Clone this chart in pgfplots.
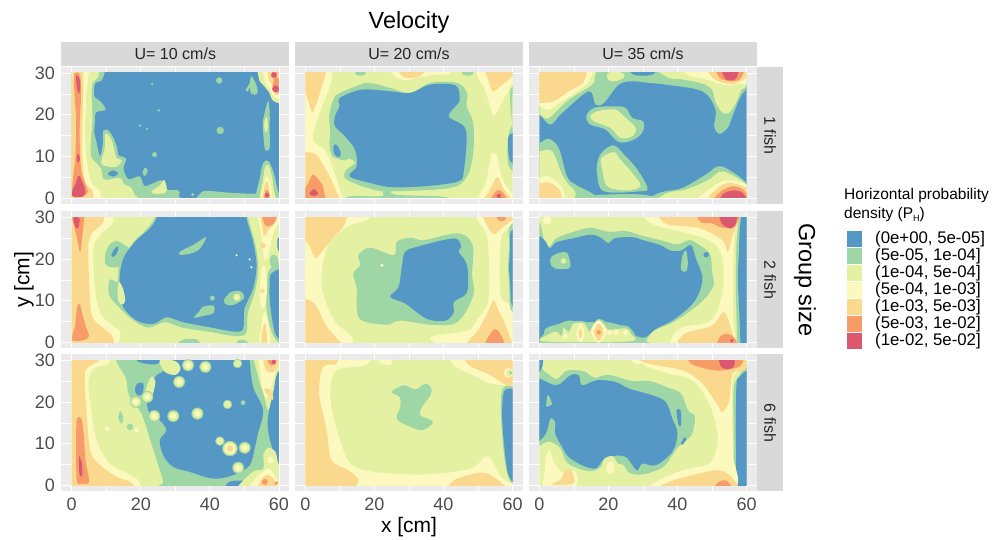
\documentclass[border=0pt]{standalone}
\usepackage{pgfplots}
\pgfplotsset{compat=1.18}
\usepackage{fontspec}
\setmainfont{Liberation Sans}
\definecolor{cA}{RGB}{85,152,197}
\definecolor{cB}{RGB}{158,214,165}
\definecolor{cC}{RGB}{228,241,163}
\definecolor{cD}{RGB}{251,249,190}
\definecolor{cE}{RGB}{250,217,143}
\definecolor{cF}{RGB}{247,155,105}
\definecolor{cG}{RGB}{220,88,110}
\definecolor{strip}{RGB}{217,217,217}
\definecolor{panelbg}{RGB}{235,235,235}
\definecolor{ticktxt}{RGB}{77,77,77}
\newcommand\lay[2]{\addplot[fill=#1,draw=none,mark=none,smooth cycle,tension=0.55,forget plot] coordinates {#2};}
\newcommand\dotsat[3]{\addplot[only marks,mark=*,mark size=#2pt,color=#1,mark options={fill=#1,draw=#1,line width=0.3pt,solid},forget plot] coordinates {#3};}
\pgfplotsset{
 bgaxis/.style={scale only axis,width=228pt,height=137.5pt,anchor=south west,
  xmin=-3,xmax=63,ymin=-1.5,ymax=31.5,axis background/.style={fill=panelbg},
  axis line style={draw=none},
  xtick={0,20,40,60},minor xtick={10,30,50},ytick={0,10,20,30},minor ytick={5,15,25},
  grid=both,major grid style={white,line width=0.8pt},minor grid style={white,line width=0.4pt},
  tick align=outside,major tick length=3pt,minor tick length=0pt,
  tick style={color=black!75,line width=0.6pt},
  ticklabel style={font=\fontsize{18}{18}\selectfont,text=ticktxt},
  /pgf/number format/assume math mode=true,
  xticklabels={},yticklabels={},
  xtick style={draw=none},ytick style={draw=none}},
 yl/.style={yticklabels={0,10,20,30},ytick style={color=black!75,line width=0.6pt},minor ytick={5,15,25},ytick pos=left},
 xl/.style={xticklabels={0,20,40,60},xtick style={color=black!75,line width=0.6pt},xtick pos=bottom},
 da/.style={scale only axis,width=207.3pt,height=125pt,anchor=south west,xmin=0,xmax=60,ymin=0,ymax=30,hide axis},
}
\begin{document}
\begin{tikzpicture}[x=1pt,y=1pt]
\path[use as bounding box] (0,0) rectangle (999,540);
% ---------- backgrounds
\begin{axis}[bgaxis,yl,at={(61.34pt,335.8pt)}]\end{axis}
\begin{axis}[bgaxis,at={(294.94pt,335.8pt)}]\end{axis}
\begin{axis}[bgaxis,at={(528.94pt,335.8pt)}]\end{axis}
\begin{axis}[bgaxis,yl,at={(61.34pt,191.5pt)}]\end{axis}
\begin{axis}[bgaxis,at={(294.94pt,191.5pt)}]\end{axis}
\begin{axis}[bgaxis,at={(528.94pt,191.5pt)}]\end{axis}
\begin{axis}[bgaxis,yl,xl,at={(61.34pt,48.5pt)}]\end{axis}
\begin{axis}[bgaxis,xl,at={(294.94pt,48.5pt)}]\end{axis}
\begin{axis}[bgaxis,xl,at={(528.94pt,48.5pt)}]\end{axis}
% ---------- panel row 1 col 1
\begin{axis}[da,at={(71.7pt,342.05pt)}]
\lay{cA}{(-3,-3)(-3,33)(63,33)(63,-3)}
\lay{cB}{(-3,-3)(-3,33)(8.9,33)(8.9,28.5)(6.8,27.5)(6.5,24.5)(8.5,23)(9.8,21.2)(7,20.5)(6.7,18)(6.5,16)(7,14)(8.2,10)(9,13)(9.1,16)(10.5,16.3)(12,14.5)(13.2,12)(13.5,10.3)(15.7,9.4)(15,7)(16.5,4.5)(19.7,5.2)(21,2.9)(23.5,3.5)(26,4.2)(27.8,2)(31,1.8)(31,0.5)(29,-1)}
\lay{cA}{(10.5,5.8)(12,6.6)(13.4,5.9)(12,5.1)}
\lay{cC}{(-3,-3)(-3,33)(7.5,33)(7.6,29)(6,27.5)(5.8,24)(6,19)(5.6,14)(5.6,10)(7,8.5)(8.5,7)(9,5)(10,4.3)(14,4.8)(15,3.4)(17,2.6)(18,1)(18,-1)}
\lay{cC}{(9.8,15.5)(11.5,14)(12.5,11)(13,9.5)(14.5,9)(13,7.5)(10,7.6)(8.5,8.5)(9.6,12)}
\lay{cC}{(23,1.5)(25.5,3)(26.7,4.3)(27.5,2.5)(27,1.2)(24,1)}
\lay{cD}{(-3,-3)(-3,33)(4.8,33)(4.8,29.2)(4.3,25.2)(3.9,17.2)(4.3,9.2)(5.8,3.6)(8.2,1.6)(7.2,-1)}
\lay{cE}{(0.3,-1)(0.3,31)(2.8,31)(3.3,28)(3.2,20)(3,12)(3.8,4)(6,1.8)(5.8,-1)}
\lay{cF}{(0.8,29.7)(2.4,29.5)(2.7,25)(2.4,19)(2.3,14)(2.7,7)(3.7,4)(4.7,1.5)(3,0.4)(0.3,0.4)(0.3,4)(1,9)(1.2,14)(1.3,19)(0.8,25)}
\lay{cG}{(1.3,29.4)(2.3,28.5)(2.4,26)(2,25)(1.5,26.5)}
\lay{cG}{(1.4,9.5)(1.9,10.6)(2.4,9.5)(1.9,8.4)}
\lay{cG}{(0.3,0.4)(3.5,0.4)(3.9,2)(3,4)(2.3,5.2)(1.7,5)(1.2,3.5)(0.3,2)}
\lay{cB}{(52,29.2)(53.5,27)(53.7,25)(52,25)(51.5,26.5)(51,25.5)(50.4,26)(51.5,27.5)}
\lay{cC}{(54.2,33)(62,33)(62,23.5)(58.5,23.2)(57,25.5)(55,27.5)(54.2,28.5)}
\lay{cD}{(55.5,33)(62,33)(61,24.5)(58.5,24.2)(57.5,26)(56,28)}
\lay{cE}{(57,33)(61,33)(60.5,28)(59.8,25)(58.7,25)(57.8,27.5)(57,28.5)}
\lay{cF}{(57.8,31)(59.3,31)(59.4,29)(60.5,28)(60.5,25.3)(58.7,25.5)(58.2,27)(58.5,28.3)}
\dotsat{cG}{2.6}{(58.5,29.5)}
\dotsat{cG}{3.2}{(59,26.2)}
\lay{cB}{(56.9,23.2)(57.3,20.5)(57.3,16)(57.3,12)(56,11.5)(55.5,15)(55.3,18)(56,21)}
\lay{cC}{(56,19)(56.5,19.3)(56.8,17)(56.3,15.7)(55.7,17)}
\lay{cB}{(37,-1)(37.2,1)(39,1.7)(45,1.3)(52,1)(55,1)(55,-1)}
\lay{cB}{(53.7,-1)(54.5,5)(55.5,8.5)(57,8.8)(58.5,6)(59.3,3)(60,1)(62,-1)}
\lay{cC}{(54.5,-1)(55.3,4)(56,7.5)(57,7.8)(58,5)(58.5,2)(59,-1)}
\lay{cD}{(55,-1)(55.5,3)(56.2,5)(57,4.5)(57.8,2)(58,-1)}
\lay{cE}{(55.3,-1)(55.7,2.5)(56.3,4)(57,3)(57.5,-1)}
\lay{cF}{(55.7,-1)(56,1.5)(56.5,2)(57.2,1)(57.2,-1)}
\dotsat{cG}{2}{(56.5,0.7)}
\dotsat{cB}{3}{(42.7,28.2)}
\dotsat{cB}{3.5}{(43,16.2)}
\dotsat{cB}{2.3}{(24,10.4)}
\lay{cB}{(20.5,6)(21.2,7.3)(22,6.6)(21.2,5.3)}
\dotsat{cB}{1}{(23.3,27.4)(19.8,17.4)(21.8,16.6)(25.2,21)}
\dotsat{cB}{1.5}{(35,0.8)}
\end{axis}
% ---------- panel row 1 col 2
\begin{axis}[da,at={(305.3pt,342.05pt)}]
\lay{cC}{(-3,-3)(-3,33)(63,33)(63,-3)}
\lay{cB}{(10,25.2)(15.9,27.2)(18.8,27.6)(24.6,26.4)(30.4,25.2)(36.2,27.6)(44,27.6)(46.8,25.2)(46.7,22)(48.6,18)(48.6,10.8)(46.8,5.2)(42,2.4)(24.6,1.6)(18.8,2.2)(12,4.4)(11.5,6.4)(14.4,8.4)(12.5,9.5)(11.5,9)(7.8,10)(7,13)(7.2,16)(6.9,19.6)(8.1,23.6)}
\lay{cB}{(13,-1)(13,0.4)(22,0.4)(22.5,1.5)(24.5,2.4)(26,0.8)(40,0.3)(40,-1)}
\lay{cA}{(10,24)(16.4,26)(24.6,25.6)(30.4,25.2)(36.2,27.2)(43.5,27)(44.7,23.6)(43.9,22.4)(41.5,19.6)(45.9,17.2)(46.7,14)(45.9,6.8)(44.4,4)(34.3,2.8)(24.6,2.6)(18.8,3.6)(12.8,5.2)(14.9,7.6)(14.4,11.6)(11.5,14.8)(8.6,17.2)(8.6,19.6)(9.9,22)}
\lay{cA}{(8.2,12.5)(9,12.8)(10.2,11)(10,9.9)(9,10)(8.2,11)}
\lay{cB}{(14.6,33)(14.6,29.7)(17.3,29.7)(17.3,33)}
\lay{cB}{(45.5,33)(45.5,29.7)(48.5,29.7)(48.5,33)}
\lay{cB}{(59.4,26)(62,26)(62,7)(59,7.5)(58.5,11)(58.8,15)(59.5,17)(59.5,20)}
\lay{cA}{(59.2,9)(58.7,13)(59,15)(62,15.5)(62,8)}
\lay{cC}{(60,25)(62,25)(62,17)(59.7,17)(59.8,21)}
\lay{cD}{(-3,-1)(-3,33)(6,33)(7.6,28.4)(3.8,19.6)(2.3,14)(6.2,10.8)(10,2)(10,-1)}
\lay{cD}{(24,33)(25.5,29.5)(29,28.3)(33,29)(37,29.5)(42,30)(42,33)}
\lay{cE}{(26,33)(28,29.3)(31,28.8)(34,29.8)(34.5,33)}
\lay{cE}{(-3,33)(6,33)(4.5,26)(2.3,20.8)(1.5,21.5)(0,25)(-3,26)}
\lay{cE}{(-3,11)(0,11)(3,10.5)(5.5,7.5)(8.5,2.5)(9,-1)(-3,-1)}
\lay{cF}{(-3,-1)(-3,2)(0,2.5)(2,5.5)(3,5.2)(5,3)(5.6,0.8)(5.5,-1)}
\lay{cG}{(1.2,1)(2.5,2.1)(3.7,1)(2.5,0.5)}
\lay{cD}{(50,33)(50,29)(52,26)(54,20.5)(55,20)(57,23)(59,26)(60,28)(62,33)}
\lay{cE}{(52.2,33)(53.5,27)(54.5,25.5)(56,26.5)(59,28.5)(60,29.5)(62,33)}
\lay{cD}{(51,-1)(50.5,1)(52,3)(53.3,8)(54,10.8)(55.5,10)(56.5,6)(58,3)(60,1)(62,-1)}
\lay{cE}{(51.5,-1)(53,1.3)(55,4.5)(56,4.8)(57.5,2)(59,0.5)(59,-1)}
\lay{cF}{(53.8,-1)(54.5,1)(56,1.9)(57.5,1)(58.3,-1)}
\dotsat{cG}{2}{(56,0.5)}
\end{axis}
% ---------- panel row 1 col 3
\begin{axis}[da,at={(539.3pt,342.05pt)}]
\lay{cA}{(-3,-3)(-3,33)(63,33)(63,-3)}
\lay{cB}{(-3,20)(0,20)(3.2,17.6)(6.6,20.4)(14.3,25.6)(16.3,22.4)(18.7,22.8)(23,27.2)(26.9,28)(31.8,27.6)(36.6,27.2)(47.2,25.6)(51,21.2)(50.6,17.2)(52.1,15.4)(54.5,16.8)(55.9,19.6)(57.5,23)(58.9,25.2)(60,26.4)(63,33)(-3,33)}
\lay{cA}{(26,33)(27,29.7)(33,29.7)(34,33)}
\lay{cC}{(-3,20.5)(0,20)(2.7,19.2)(8.5,23.6)(15.3,27.2)(16,29.2)(16,33)(-3,33)}
\lay{cD}{(-3,22)(0,22)(2.7,21.2)(6.6,23.2)(14.3,28)(14.3,33)(-3,33)}
\lay{cE}{(-3,22.8)(0,22.8)(4.2,23.2)(8.5,25.6)(12.9,28)(12.4,33)(-3,33)}
\lay{cC}{(19.6,29.5)(21,30.5)(24,30)(24.6,29)(22,28)(20,28.3)}
\lay{cC}{(33,33)(37,29)(41,28.5)(47,27.5)(50,26)(51,23)(53,20.5)(55,20.5)(57,23)(58.5,26)(60,27)(63,33)}
\lay{cD}{(41,33)(43,29.5)(47,28.8)(52,27.5)(55,27)(58,27.5)(60,27.5)(63,33)}
\lay{cE}{(48,33)(50,29)(53,27.7)(56,27.3)(58,28)(60,29)(60.5,33)}
\lay{cF}{(51,33)(52,29)(54,28.2)(56.5,28)(58.5,29)(59.5,33)}
\lay{cG}{(52.5,33)(53.5,29)(55,28.2)(57,28.8)(58,33)}
\lay{cB}{(13.6,19.6)(15.8,21.6)(21.6,22)(25,21.6)(26.9,19.2)(30,18.4)(30,16)(27.4,14)(23,13.4)(19.2,16.4)(14.8,17.6)}
\lay{cC}{(14.8,19.6)(16.8,20.8)(22,21.2)(25,19.2)(27.9,16.8)(26.9,14.8)(23.5,14.4)(20.6,16.8)(15.8,18.4)}
\lay{cB}{(21.6,12.6)(25,10)(28.4,6.8)(31.3,2.4)(29.3,1.6)(18.7,1.6)(16.7,6)(17,9.2)(18.4,11.2)}
\lay{cC}{(21.6,11)(23.5,9.2)(26.9,6)(29.3,2.8)(25,1.8)(19.7,2.8)(18.2,6.8)(18,9.6)}
\lay{cB}{(-3,13)(0,13.2)(2.7,14.2)(5.6,12)(8,5.2)(10.5,3.2)(15.8,0.8)(16,-1)(-3,-1)}
\lay{cB}{(15,-1)(16,0.6)(30,0.8)(35,-1)}
\lay{cC}{(-3,11.2)(0,11.2)(3.7,11.2)(6.6,5.6)(8.5,3.2)(10.5,1.2)(8.5,-1)(-3,-1)}
\lay{cD}{(-3,4.8)(0,4.8)(2.7,5.2)(6.6,2.4)(6.6,-1)(-3,-1)}
\lay{cE}{(-3,3.6)(0,3.6)(3.2,3.6)(6.1,1.6)(5.6,-1)(-3,-1)}
\lay{cB}{(34.7,1.2)(41.4,2.4)(48.2,5.6)(52.6,7.6)(60,3.6)(63,-1)(33,-1)}
\lay{cC}{(37,1.2)(42.4,2)(49.2,4.4)(53,6.4)(60,3.2)(63,-1)(36,-1)}
\lay{cD}{(46,0)(49.7,2.4)(54,4.2)(60,3.2)(63,-1)(46,-1)}
\lay{cE}{(49,-1)(51.6,2.4)(55,3.6)(59.8,2.4)(61,-1)}
\lay{cF}{(50.6,-1)(52.6,1.6)(56,2.8)(59.3,1.8)(60,-1)}
\lay{cG}{(52.9,-1)(53,0.8)(56,1.8)(58.9,1.2)(59.6,-1)}
\end{axis}
% ---------- panel row 2 col 1
\begin{axis}[da,at={(71.7pt,197.75pt)}]
\lay{cC}{(-3,-3)(-3,33)(63,33)(63,-3)}
\lay{cB}{(24,33)(24,29.8)(21,26.5)(18.3,24.5)(15,20.5)(13.5,17.5)(13.3,14.5)(11,15)(10.8,11.5)(13,9)(17.5,5.5)(22,3.5)(27,4.8)(32,3.5)(40,2.5)(47,1.5)(50.5,2.2)(51,7)(53,12)(54,18)(53,24)(51,30)(51,33)}
\lay{cB}{(10,18.5)(9.7,21)(11,23.5)(13,24.3)(15,23.5)(17,22)(15.5,19)(13,18)}
\lay{cA}{(24.6,33)(24.6,30)(22.6,27.3)(18.8,24.5)(15.4,20.9)(14.2,17.7)(13.9,14.5)(14.7,8.8)(18.8,5.2)(23.6,4.4)(27.5,6)(32.3,4.8)(40,3.6)(46.7,2.6)(49.6,3.2)(50,8)(52.5,12.9)(53.5,18.5)(52.5,24.1)(50.6,29.8)(50.6,33)}
\lay{cA}{(11.5,21)(12.5,22.5)(13.5,23)(13.2,21.5)(12,20.5)}
\lay{cC}{(13.6,14.5)(14.8,13)(15.5,10)(14.5,9)(13.5,10)(13.3,12.5)}
\lay{cB}{(31.1,21.5)(32.5,22.3)(35.5,23.5)(38.8,25.2)(38,23.5)(36.5,22)(34,21.2)(31.5,21)}
\lay{cB}{(35.4,6)(37,7.5)(38,8.5)(41,8.8)(41,7)(38,6.3)(36,5.9)}
\lay{cB}{(44,10)(46,12)(49,12.2)(49.8,10.5)(47,9)(45,9)}
\dotsat{cC}{3.5}{(47.8,10.8)}
\dotsat{cD}{1.5}{(47.8,10.8)}
\dotsat{cB}{2.3}{(40.7,10.6)}
\dotsat{cD}{0.9}{(47.7,20.9)(51.5,19.9)(52,18)}
\lay{cB}{(56.5,13)(57.3,17.5)(62,18)(62,0.5)(59,0.7)(57,5)(56.2,10)}
\lay{cB}{(57.3,19.5)(58,21)(59.5,20.5)(59.7,18.5)(58,18)}
\lay{cA}{(57.3,13.7)(57.8,16.5)(62,16.5)(62,1)(59.2,1.6)(58,5.6)(57.3,10.5)}
\lay{cA}{(59.7,25)(62,25)(62,22)(59.8,22)}
\lay{cD}{(-3,-1)(-3,33)(12,33)(12,29.8)(11.6,28.2)(8.2,25.7)(6.3,22.5)(6.7,12.9)(8.7,6.4)(14,2.4)(11.6,-1)}
\lay{cE}{(0.2,-1)(0.2,33)(8,33)(9.2,29)(5.8,26.1)(4.8,22.5)(5.3,10.5)(6.3,5.6)(11.6,1.6)(11,-1)}
\lay{cF}{(0.3,33)(3.8,33)(3.5,29)(3,25)(2.5,21.7)(2,23)(1,27)(0.3,29)}
\lay{cG}{(0.5,29.8)(2.2,29.8)(2,27.7)(1.2,27.5)}
\lay{cF}{(0.3,0.4)(3.5,0.5)(5,1.5)(4,4)(3,7)(2.3,9.3)(1.5,8)(1,4)(0.3,2)}
\lay{cD}{(54.2,33)(55,25)(55.5,21)(56,19.5)(57,21)(58,25)(59.5,28)(63,30)(63,33)}
\lay{cE}{(54.5,33)(55.3,27)(55.8,25.5)(57,27)(59,29)(60,33)}
\lay{cF}{(55,33)(55.5,29)(56.5,27.8)(58.5,28.5)(59.3,30)(59.5,33)}
\dotsat{cE}{2.5}{(55.4,23.2)}
\lay{cD}{(55,18)(56,18)(56.5,14)(56.3,10)(55.5,8)(54.5,10)(54.6,14)}
\dotsat{cE}{2}{(55.2,12.3)}
\lay{cD}{(54.5,-1)(54.7,3)(55.5,7)(56.2,7)(57.2,3)(57.2,-1)}
\lay{cE}{(55,-1)(55,2)(55.8,4.5)(56.3,3.5)(56.5,-1)}
\lay{cB}{(31,-1)(31,0)(33,0.8)(36,0.7)(37,0)(37,-1)}
\lay{cB}{(48,-1)(48,0.4)(50.5,0.4)(51,-1)}
\end{axis}
% ---------- panel row 2 col 2
\begin{axis}[da,at={(305.3pt,197.75pt)}]
\lay{cC}{(-3,-3)(-3,33)(63,33)(63,-3)}
\lay{cB}{(15.4,20.9)(18.8,22.7)(25.6,20.9)(26.5,24.1)(30.4,25.1)(34.3,24.5)(43,26.1)(46.8,25.3)(48.6,22.5)(48.3,16.1)(48.8,12)(46.4,7.2)(43,4.4)(36.2,4.2)(27.5,5.2)(23.6,4.2)(16.4,5.2)(14.9,8)(14.9,12.9)(13.9,16.5)(15.9,18.5)}
\lay{cA}{(28.9,21.7)(32.3,22.9)(43,24.9)(45.1,22.9)(44.4,21.7)(46.8,18.5)(46.8,12)(43,9.7)(43,7.2)(40.6,5.2)(35.2,5.6)(28.9,9.3)(24.6,10.9)(27,13.3)(28,18.5)}
\dotsat{cD}{1.5}{(22.2,18.5)}
\lay{cD}{(-3,-1)(-3,33)(18,33)(18.3,29.6)(11.5,27.4)(6.2,22.5)(4.7,13.7)(8.1,5.6)(13.5,1.2)(12,-1)}
\lay{cE}{(-3,33)(11,33)(11.5,28.5)(8,25)(3.5,20.5)(2.5,20.7)(0.5,24)(-3,25)}
\lay{cE}{(-3,10)(2,9.7)(4,7.5)(6,4)(9,1)(10,-1)(-3,-1)}
\lay{cD}{(50,33)(49.8,29.4)(52.7,24.9)(53.1,10.5)(49.8,5.6)(46.9,2.8)(36.2,1.2)(42,-1)(63,-1)(63,2)(59.4,8.8)(56.5,11.3)(56.7,24.9)(60,28.2)(63,33)}
\lay{cE}{(51,33)(52,29)(54,26.3)(55,26)(57,27.5)(60,29.5)(63,33)}
\lay{cF}{(55.4,30)(56.5,29)(58,29.5)(57.5,30.2)}
\lay{cE}{(47.5,-1)(47.5,0.6)(50,2.8)(53,7.5)(54.5,10)(56,7.5)(58,4)(59.5,0.5)(59.5,-1)}
\lay{cF}{(52.3,-0.5)(53.5,2)(55,3.2)(56.5,2)(57.3,-0.5)}
\lay{cB}{(59,27.5)(62,27.5)(62,8)(59.4,8)(59,14)(58.7,18)(59,23)}
\lay{cA}{(59.5,26.5)(62,26.5)(62,9)(59.8,9)(59.3,14)(59,18)(59.3,23)}
\end{axis}
% ---------- panel row 2 col 3
\begin{axis}[da,at={(539.3pt,197.75pt)}]
\lay{cC}{(-3,-3)(-3,33)(63,33)(63,-3)}
\lay{cB}{(-3,30)(0,29)(1.5,24)(3,23)(5,25)(10,26.5)(15,27.5)(20,26.5)(25,26.7)(30,25.5)(35,24.5)(40,23.5)(43.5,24.5)(47,23)(49.5,21)(50,17)(50.5,14)(49,11.5)(46,9)(42,6.5)(38,4.5)(33,2.7)(31,0.5)(30,-1)(-3,-1)}
\lay{cA}{(-3,26)(0,25.5)(2,24)(3,22.5)(5,24)(10,25)(15,25.8)(18,25)(20,23.8)(22,25)(27,25.2)(30,24.5)(35,23.3)(38,22)(41,22)(43.9,23.3)(45.3,20.1)(47.2,15.7)(46.3,12)(43.9,8.8)(38.5,5.2)(33.7,3.2)(30.8,1.2)(27.9,1.6)(26.4,3.2)(20.1,4.8)(13.4,4.8)(8.5,5.2)(5.6,4.4)(1.7,3.2)(1.2,0)(1,-1)(-3,-1)}
\lay{cB}{(41,17.5)(41.5,21)(42.5,22)(43,19)(42.5,17)}
\dotsat{cA}{2.5}{(48.3,21)}
\lay{cB}{(3.2,19)(3.5,20.5)(6,21.5)(8,21.5)(9,19)(8.5,17.7)(4.5,17.7)}
\dotsat{cC}{2.5}{(7,19.5)}
\lay{cB}{(1.5,-1)(2,2.5)(5,3.8)(7,4.5)(9,4)(10.5,5)(13,5)(15,4)(17,5.6)(19,5)(20,3.8)(25,4)(27,2.5)(26.5,0.5)(30,0.3)(30,-1)}
\lay{cC}{(1.5,0.2)(3,2)(5,2.5)(6.5,1.5)(7,3.5)(8.5,2.5)(10,4.5)(13,4.5)(14.5,2.5)(15.5,4)(17,5)(19,4)(20,3)(25,3.3)(26.5,2)(26,0.2)}
\lay{cD}{(10.7,2)(11.9,4.5)(13.1,2)(11.9,0)}
\lay{cE}{(11.4,2)(11.9,3.3)(12.4,2)(11.9,0.8)}
\lay{cD}{(15,2.6)(17.2,5.3)(19.5,2.6)(17.2,-0.2)}
\lay{cE}{(15.8,2.5)(17.2,4.5)(18.6,2.5)(17.2,0.3)}
\dotsat{cF}{2}{(17.2,2.4)}
\dotsat{cD}{2.5}{(20.4,2.3)(22.2,2.3)(25,2.3)}
\dotsat{cD}{2}{(7.5,1.5)}
\lay{cD}{(31,33)(31,29.4)(34.7,27.8)(41.4,26.5)(50,24.1)(53,20.1)(53,12)(49.7,5.2)(41.4,3.6)(38.5,1.2)(39.5,-1)(58,-1)(56.9,1.2)(56.1,6.4)(56.4,24.9)(57.9,29)(58,33)}
\dotsat{cD}{4}{(2.3,29.3)}
\lay{cB}{(58,33)(57.9,30)(57.5,28)(57,22)(56.9,12)(57.2,3)(57.6,-1)(63,-1)(63,33)}
\lay{cA}{(58.4,33)(58.4,30)(58,27)(57.8,22)(57.5,15)(58,5)(58.2,0.5)(58.5,-1)(63,-1)(63,33)}
\lay{cE}{(34,33)(34.7,30)(37.5,28.2)(46.3,27.4)(53,24.5)(54.5,21.7)(56,25.7)(57.4,29)(57.5,33)}
\lay{cF}{(46,33)(46.5,29)(50,28.5)(53,27.5)(56,27.5)(57.5,29)(57.8,33)}
\lay{cG}{(51.9,33)(52.5,29)(54.5,27.5)(56,27.5)(57,29)(57.2,33)}
\lay{cE}{(41,-1)(42,2)(50,4)(53.5,7.2)(56,2)(56.5,-1)}
\lay{cF}{(51.6,-1)(52.5,1.5)(54.5,2)(56.5,1)(57,-1)}
\dotsat{cG}{1.5}{(55.7,0.4)}
\end{axis}
% ---------- panel row 3 col 1
\begin{axis}[da,at={(71.7pt,54.75pt)}]
\lay{cC}{(-3,-3)(-3,33)(63,33)(63,-3)}
\lay{cB}{(15.9,33)(15.9,25.2)(16.8,21.2)(20.2,17.2)(22.6,11.2)(24.6,6)(26.5,0.8)(26,-1)(63,-1)(63,33)}
\lay{cA}{(24.6,26.4)(22.6,23.8)(21.7,20.4)(22.6,17.2)(25.5,15.6)(27.4,13.2)(25.5,10.8)(26.5,7.2)(29.4,4.4)(34.2,3.2)(40.9,1.6)(46.7,2.4)(51.5,4.8)(53,9)(53.9,12.4)(55.4,18)(52.5,23.6)(51.5,30)(51.5,33)(26,33)(27,28)}
\lay{cA}{(18.3,23)(19,24.4)(20.7,24.4)(20.5,22)(19,21.6)}
\lay{cA}{(19,33)(19,29.8)(25,29.2)(26,33)}
\lay{cA}{(45,-1)(45.5,0.8)(50,1)(51,-1)}
\lay{cA}{(60,29)(63,29)(63,4)(60,4.5)(58.5,6)(58,9)(57.2,11.5)(56.7,15)(57.5,20)(58.5,24)(59.5,27)}
\lay{cC}{(25.5,30)(27,27.2)(30,26.5)(31.5,28)(30,29.8)}
\lay{cC}{(21.5,23)(23,26)(24.2,25)(23.5,22)(22,21)}
\dotsat{cB}{5.8}{(33.7,28.8)(38.7,28.4)(31.1,24.8)(29.4,16.6)(36.4,17.2)(23.9,16.6)(18.6,20)(21.9,21.2)(48.2,4.2)(50.1,9)}
\dotsat{cB}{4.5}{(48,29.2)(45.1,19.4)(42.9,10.6)}
\dotsat{cB}{7.5}{(45.8,8.8)}
\dotsat{cC}{4.8}{(33.7,28.8)(38.7,28.4)(31.1,24.8)(29.4,16.6)(36.4,17.2)(23.9,16.6)(18.6,20)(21.9,21.2)(48.2,4.2)(50.1,9)}
\dotsat{cC}{3.5}{(48,29.2)(45.1,19.4)(42.9,10.6)}
\dotsat{cC}{6.5}{(45.8,8.8)}
\dotsat{cD}{2.5}{(33.7,28.8)(38.7,28.4)(31.1,24.8)(29.4,16.6)(36.4,17.2)(23.9,16.6)(18.6,20)(21.9,21.2)(48.2,4.2)(50.1,9)}
\dotsat{cD}{5}{(45.8,8.8)}
\dotsat{cE}{3}{(45.8,8.8)}
\dotsat{cB}{2.2}{(49.6,19.8)}
\dotsat{cB}{3}{(16.9,14)}
\lay{cB}{(13.5,16)(14,17.8)(14.8,16.5)(14.5,14.8)}
\lay{cC}{(53,33)(54,26)(55.5,22)(56.8,18)(57.5,19.5)(58.5,23)(59.5,27)(63,30)(63,33)}
\lay{cD}{(54.2,33)(54.5,27)(55.5,22.5)(56.5,21)(57.5,23)(58.5,26)(59.5,29)(60,33)}
\lay{cE}{(55.5,33)(56,28)(58,27)(59.5,28.5)(60,33)}
\lay{cE}{(55.7,23)(57,21.3)(58.2,20.5)(58.3,21.5)(57,23.2)}
\lay{cF}{(56.5,33)(57,29.2)(58.5,28.8)(59.3,30)(59.5,33)}
\dotsat{cG}{2}{(58.5,29.6)}
\lay{cC}{(49,-1)(49.5,1)(53,3.5)(55.5,4)(55.5,7.5)(57,9)(59,8)(60,5)(63,4)(63,-1)}
\lay{cD}{(52,-1)(53,1.5)(55,3)(57,4)(59,2)(59.5,-1)}
\dotsat{cD}{3}{(57.5,6)}
\lay{cE}{(54,-1)(55,1.5)(56.5,2.5)(58.5,1.5)(59,-1)}
\dotsat{cF}{2.8}{(55.9,0.8)}
\dotsat{cF}{1.8}{(59.2,0.5)}
\lay{cD}{(-3,-1)(-3,33)(10,33)(10.6,29.2)(6.3,28)(4.8,24.4)(5.8,17.2)(7.2,10.8)(11.1,5.2)(19.3,1.2)(16.9,-1)}
\lay{cE}{(0.3,-1)(0.3,33)(8,33)(8,30)(4.3,28)(3.8,25)(4.5,15)(5.5,8)(8,5)(13,2)(17,0.8)(17,-1)}
\lay{cF}{(1.5,16)(2.8,16)(3.5,12)(4,6)(5,0.8)(3,0.4)(1.6,0.6)(1.3,5)(1.3,12)}
\lay{cG}{(2.2,7)(3,5)(3,2.2)(2.3,2.5)(2.1,5)}
\dotsat{cD}{2}{(10.3,13.6)(18.8,13.2)}
\end{axis}
% ---------- panel row 3 col 2
\begin{axis}[da,at={(305.3pt,54.75pt)}]
\lay{cC}{(-3,-3)(-3,33)(63,33)(63,-3)}
\lay{cB}{(25,22.4)(28.5,24)(31.9,23)(34.8,24.4)(36.5,23.2)(36.2,21.6)(33.8,18.8)(33.3,16.8)(37,15.2)(33.8,13.2)(29.4,14.4)(26.5,16)(27.5,18.8)(27.3,21.2)}
\lay{cB}{(57,23)(60,23.8)(63,24)(63,0)(60,0.2)(58,4.4)(56.7,15.6)}
\lay{cA}{(57.5,22.4)(60,23.2)(63,23.2)(63,0.5)(60,0.8)(58.3,4.4)(57,15.6)}
\lay{cD}{(-3,-1)(-3,33)(18,33)(17.8,29)(9.1,27.6)(7.2,22.8)(8.1,16.4)(10.1,10.8)(13,5.2)(19.7,3.2)(34.3,2.6)(47.8,4)(52.7,7)(56,2.8)(58.5,0.8)(63,-1)}
\lay{cD}{(43,33)(43,28.8)(49.8,26)(53.6,24.4)(60,24.8)(63,33)}
\lay{cD}{(21.5,33)(21.5,29.5)(23,29)(25,29.2)(25.5,33)}
\lay{cE}{(0.4,-1)(0.4,33)(9,33)(9,29.2)(5.2,28.4)(4,22)(6.2,13.2)(7.6,6)(12.5,3.6)(15.4,1.2)(12.5,-1)}
\lay{cE}{(47,33)(46.9,29.2)(53.6,26.4)(57.5,24.4)(60,24.4)(63,33)}
\dotsat{cD}{4.5}{(58.8,27)}
\dotsat{cC}{3}{(59,27)}
\dotsat{cB}{1.5}{(59.5,27)}
\lay{cE}{(43,-1)(43,1.2)(51.7,3)(57.5,0)(57.5,-1)}
\end{axis}
% ---------- panel row 3 col 3
\begin{axis}[da,at={(539.3pt,54.75pt)}]
\lay{cC}{(-3,-3)(-3,33)(63,33)(63,-3)}
\lay{cB}{(-3,29)(2,27)(5,25.5)(8,27.5)(13,27.3)(16,25.8)(20,26.5)(27,25)(32,25)(37,23.5)(41,22)(43,18)(45,16.5)(44,12)(40,9)(36,4.5)(30,2.6)(26,3)(24,5)(19,5)(16,3.5)(12,3.8)(8,5.5)(6,9)(3,10.5)(1,10)(-3,9)}
\lay{cA}{(-3,26)(0,25.6)(5.1,24)(9,26.4)(11.4,26.4)(12.4,24)(16.7,25.2)(22,24.8)(26,23.2)(32.7,21.6)(36.6,20)(38.5,16)(40,12.4)(38.5,8)(33.7,4.8)(29.8,5.2)(28.2,3.6)(25,6.8)(21.1,7)(18.4,6)(16.3,4)(12.4,4.8)(8.5,6.8)(6.6,9.2)(4.6,12.4)(4.6,15.2)(3.2,16)(2.2,13)(0.5,11)(-3,10)}
\lay{cB}{(2,19)(2.5,21.7)(3.5,20)(3.5,19.3)}
\lay{cA}{(39.7,18)(40.9,18)(41,14.5)(40.3,14.5)}
\lay{cA}{(41,10)(42,11.5)(42.5,11)(41.5,9.8)}
\lay{cA}{(-3,33)(0.7,33)(0.7,28)(-3,26)}
\lay{cC}{(18.5,2.5)(18.5,6)(21,7)(22.5,5.5)(23.5,3.5)(21,2.5)}
\lay{cD}{(19.5,3)(19.8,5.2)(21,5.5)(21.8,4)(21,2.8)}
\lay{cB}{(56.2,-1)(56.3,8)(56.2,20)(56.4,24)(58,26.5)(60,28.5)(63,28.5)(63,-1)}
\lay{cA}{(57.1,-1)(57,5)(56.9,15)(57.1,24.4)(58,26)(60,27.5)(63,27.5)(63,-1)}
\lay{cD}{(30,33)(30.3,29)(37.6,26.8)(44.3,25.2)(48.7,20.4)(51.1,14.8)(51.6,10)(49.2,5.2)(41.4,3.6)(34.7,1.2)(32.7,-1)(56,-1)(56,8)(55.8,24)(57.5,27.5)(60,29)(63,33)}
\lay{cD}{(26,33)(27,29.5)(30,29.5)(31,33)}
\lay{cE}{(30,33)(30,29.6)(41.4,27.6)(47.2,24.4)(51.6,19.2)(53,17.6)(55,20.4)(56,26.8)(59.3,27.6)(60,29)(60,33)}
\lay{cF}{(43.4,33)(43.5,29.5)(48,28)(52,27.5)(55,27.8)(58,28.5)(59,30)(59,33)}
\lay{cG}{(52,33)(52.3,29)(53.5,28)(55.5,28)(56.5,29)(56.3,33)}
\lay{cE}{(35.6,-1)(37.6,0.8)(44.3,2.4)(52,3.6)(56,1.6)(56,-1)}
\lay{cF}{(51,-1)(51.5,0.5)(53.5,1.2)(55,0.5)(55.5,-1)}
\lay{cD}{(1.5,-1)(1.5,3)(2,7)(3,8.5)(4,6)(5,4.5)(7,3)(10,3.5)(11,2)(10,-1)}
\lay{cE}{(3.5,0.2)(6,1.2)(7.5,3.5)(9,3.7)(10,2)(9.5,0.3)}
\end{axis}
% ---------- strips
\fill[strip] (61.34,474) rectangle (289.34,498);
\fill[strip] (294.94,474) rectangle (522.94,498);
\fill[strip] (528.94,474) rectangle (756.94,498);
\node[font=\fontsize{16}{16}\selectfont,text=black!85] at (175.34,486) {U= 10 cm/s};
\node[font=\fontsize{16}{16}\selectfont,text=black!85] at (408.94,486) {U= 20 cm/s};
\node[font=\fontsize{16}{16}\selectfont,text=black!85] at (642.94,486) {U= 35 cm/s};
\fill[strip] (756.94,335.8) rectangle (783,473.3);
\fill[strip] (756.94,191.5) rectangle (783,329);
\fill[strip] (756.94,48.5) rectangle (783,186);
\node[rotate=-90,font=\fontsize{16}{16}\selectfont,text=black!85] at (770,404.5) {1 fish};
\node[rotate=-90,font=\fontsize{16}{16}\selectfont,text=black!85] at (770,260) {2 fish};
\node[rotate=-90,font=\fontsize{16}{16}\selectfont,text=black!85] at (770,117) {6 fish};
% ---------- titles
\node[font=\fontsize{23.4}{24}\selectfont] at (409,518) {Velocity};
\node[rotate=-90,font=\fontsize{23.5}{24}\selectfont] at (805,260) {Group size};
\node[font=\fontsize{21}{21}\selectfont] at (409,13) {x [cm]};
\node[rotate=90,font=\fontsize{21}{21}\selectfont] at (24,260) {y [cm]};
% ---------- legend
\node[anchor=base west,inner sep=0pt,font=\fontsize{15.5}{16}\selectfont] at (844,340) {Horizontal probability};
\node[anchor=base west,inner sep=0pt,font=\fontsize{15.5}{16}\selectfont] at (844,321) {density (P\raisebox{-0.35ex}{\fontsize{9}{9}\selectfont H})};
\fill[cA] (846.5,292.6) rectangle (862,308.6);
\fill[cB] (846.5,275.6) rectangle (862,291.6);
\fill[cC] (846.5,258.6) rectangle (862,274.6);
\fill[cD] (846.5,241.6) rectangle (862,257.6);
\fill[cE] (846.5,224.6) rectangle (862,240.6);
\fill[cF] (846.5,207.6) rectangle (862,223.6);
\fill[cG] (846.5,190.6) rectangle (862,206.6);
\foreach \t/\yy in {{(0e+00, 5e-05]}/300.6,{(5e-05, 1e-04]}/283.6,{(1e-04, 5e-04]}/266.6,{(5e-04, 1e-03]}/249.6,{(1e-03, 5e-03]}/232.6,{(5e-03, 1e-02]}/215.6,{(1e-02, 5e-02]}/198.6}
 \node[anchor=west,inner sep=0pt,font=\fontsize{16.8}{17}\selectfont] at (875,\yy) {\t};
\end{tikzpicture}
\end{document}
